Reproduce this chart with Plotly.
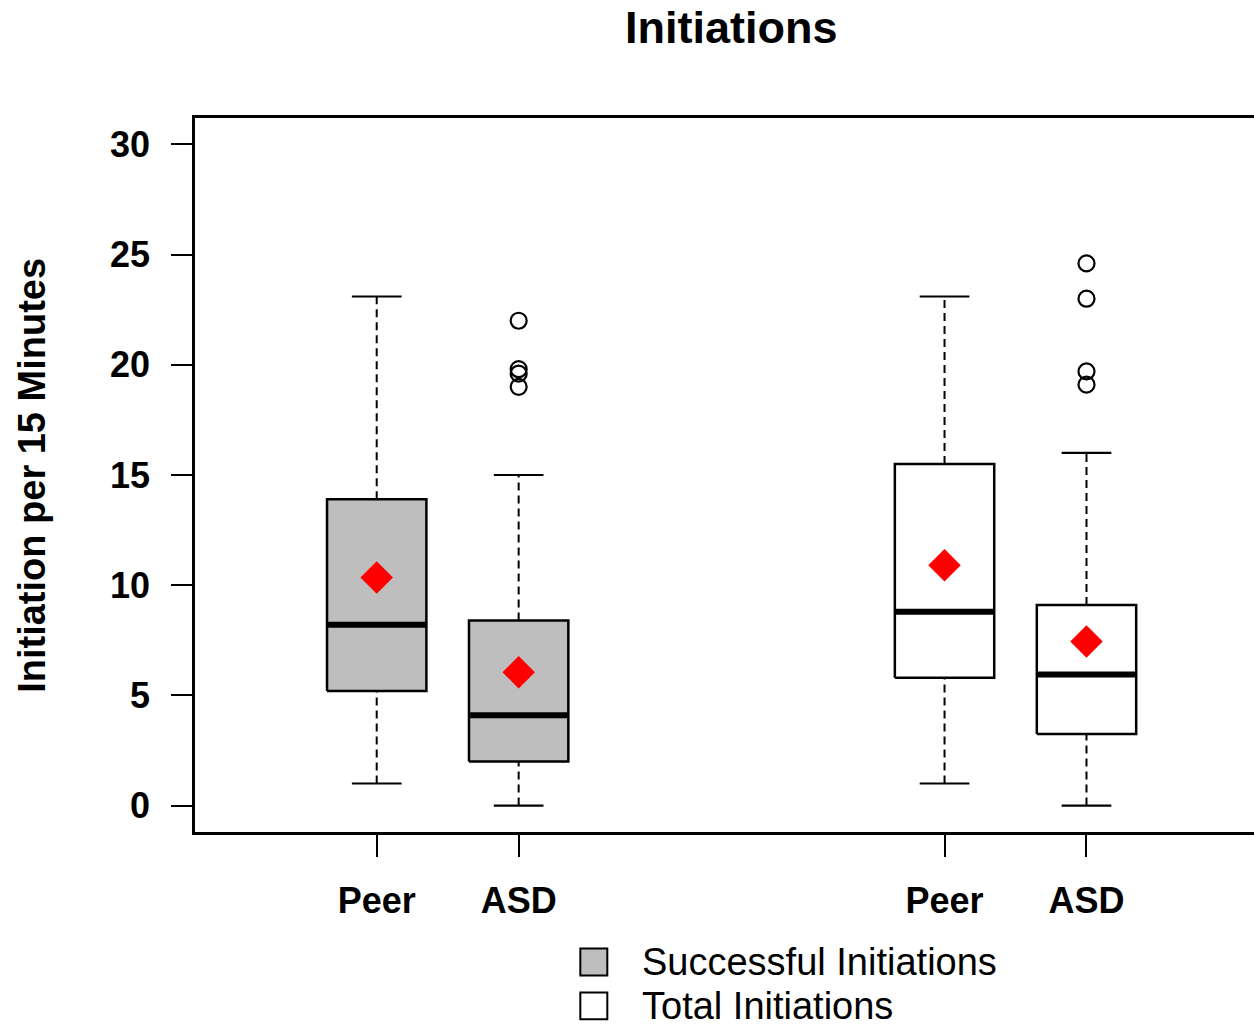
import plotly.graph_objects as go

# Box-plot summaries: Successful (grey) and Total (white) initiations
positions = [1, 2, 5, 6]
tick_labels = ["Peer", "ASD", "Peer", "ASD"]
fills = ["#BEBEBE", "#BEBEBE", "#FFFFFF", "#FFFFFF"]

lower_whisker = [1.0, 0.0, 1.0, 0.0]
q1 = [5.2, 2.0, 5.8, 3.25]
median = [8.2, 4.1, 8.8, 5.95]
q3 = [13.9, 8.4, 15.5, 9.1]
upper_whisker = [23.1, 15.0, 23.1, 16.0]
means = [10.35, 6.05, 10.9, 7.45]

outlier_x = [2, 2, 2, 2, 6, 6, 6, 6]
outlier_y = [22.0, 19.8, 19.6, 19.0, 24.6, 23.0, 19.7, 19.1]

legend_labels = ["Successful Initiations", "Total Initiations"]
legend_fills = ["#BEBEBE", "#FFFFFF"]

box_half = 0.35
cap_half = 0.175
FONT = "Liberation Sans, Arial, sans-serif"

fig = go.Figure()

for i, x in enumerate(positions):
    # dashed whiskers
    fig.add_trace(go.Scatter(
        x=[x, x, None, x, x],
        y=[lower_whisker[i], q1[i], None, q3[i], upper_whisker[i]],
        mode="lines", line=dict(color="black", width=2, dash="8px,5px"),
        hoverinfo="skip", showlegend=False))
    # whisker caps
    fig.add_trace(go.Scatter(
        x=[x - cap_half, x + cap_half, None, x - cap_half, x + cap_half],
        y=[lower_whisker[i], lower_whisker[i], None, upper_whisker[i], upper_whisker[i]],
        mode="lines", line=dict(color="black", width=2.2),
        hoverinfo="skip", showlegend=False))
    # box
    fig.add_trace(go.Scatter(
        x=[x - box_half, x + box_half, x + box_half, x - box_half, x - box_half],
        y=[q1[i], q1[i], q3[i], q3[i], q1[i]],
        mode="lines", fill="toself", fillcolor=fills[i],
        line=dict(color="black", width=2.5),
        hoverinfo="skip", showlegend=False))
    # median
    fig.add_trace(go.Scatter(
        x=[x - box_half, x + box_half], y=[median[i], median[i]],
        mode="lines", line=dict(color="black", width=6),
        hoverinfo="skip", showlegend=False))

# outliers
fig.add_trace(go.Scatter(
    x=outlier_x, y=outlier_y, mode="markers",
    marker=dict(symbol="circle-open", size=16, color="black", line=dict(width=2.2)),
    showlegend=False))

# means
fig.add_trace(go.Scatter(
    x=positions, y=means, mode="markers",
    marker=dict(symbol="diamond", size=25, color="#FF0000", line=dict(width=0)),
    showlegend=False))

# legend drawn in paper coordinates below the plot
L, R, T, B = 194.5, 0, 117.5, 193
W, H = 1254, 1025
pw, ph = W - L - R, H - T - B


def px_x(p):
    return (p - L) / pw


def px_y(p):
    return (H - B - p) / ph


shapes = []
annotations = []
for k, (lab, col) in enumerate(zip(legend_labels, legend_fills)):
    cy = 962 + 44 * k
    shapes.append(dict(type="rect", xref="paper", yref="paper",
                       x0=px_x(580), x1=px_x(607), y0=px_y(cy - 13.5), y1=px_y(cy + 13.5),
                       fillcolor=col, line=dict(color="black", width=2)))
    annotations.append(dict(text=lab, xref="paper", yref="paper",
                            x=px_x(640), y=px_y(cy), xanchor="left", yanchor="middle",
                            showarrow=False, font=dict(family=FONT, size=38, color="black")))

annotations.append(dict(text="Initiation per 15 Minutes", xref="paper", yref="paper",
                        x=px_x(32), y=px_y(475), xanchor="center", yanchor="middle",
                        textangle=-90, showarrow=False,
                        font=dict(family=FONT, size=38, color="black", weight="bold")))

fig.update_layout(
    width=W, height=H,
    margin=dict(l=L, r=R, t=T, b=B),
    paper_bgcolor="white", plot_bgcolor="white",
    title=dict(text="Initiations", x=px_x(731), xref="paper", xanchor="center",
               y=1 - 27 / H, yref="container", yanchor="middle",
               font=dict(family=FONT, size=45, color="black", weight="bold")),
    shapes=shapes, annotations=annotations,
    showlegend=False,
)

fig.update_xaxes(
    range=[-0.28, 7.18], tickmode="array", tickvals=positions, ticktext=tick_labels,
    showgrid=False, zeroline=False, showline=True, mirror=True,
    linecolor="black", linewidth=2.5,
    ticks="outside", ticklen=22, tickwidth=2, tickcolor="black",
    ticklabelstandoff=13,
    tickfont=dict(family=FONT, size=36, color="black", weight="bold"),
)
fig.update_yaxes(
    range=[-1.2, 31.2], tickmode="array", tickvals=[0, 5, 10, 15, 20, 25, 30],
    showgrid=False, zeroline=False, showline=True, mirror=False,
    linecolor="black", linewidth=2.5,
    ticks="outside", ticklen=21, tickwidth=2, tickcolor="black",
    ticklabelstandoff=14,
    tickfont=dict(family=FONT, size=36, color="black", weight="bold"),
)

fig.write_html("out.html")
